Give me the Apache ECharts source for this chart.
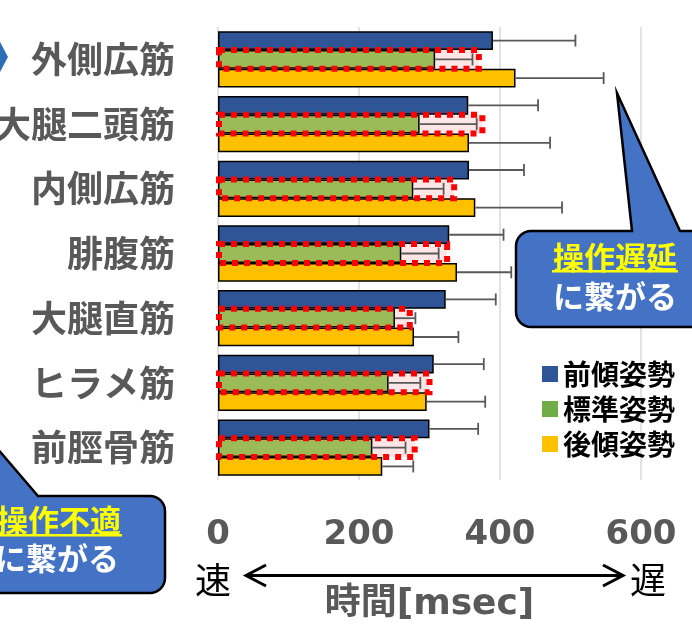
<!DOCTYPE html>
<html><head><meta charset="utf-8">
<script src="https://cdn.jsdelivr.net/npm/echarts@6/dist/echarts.min.js"></script>
<style>html,body{margin:0;padding:0;background:#fff}#c{width:692px;height:627px}</style>
</head><body><div id="c"></div>
<script>
const categories = ['外側広筋','大腿二頭筋','内側広筋','腓腹筋','大腿直筋','ヒラメ筋','前脛骨筋'];
const seriesNames = ['前傾姿勢','標準姿勢','後傾姿勢'];
const forward = [390, 355, 356, 328, 323, 306, 300];
const forwardErr = [117, 99, 78, 77, 71, 71, 69];
const standard = [308, 286, 277, 260, 251, 242, 219];
const standardErr = [53, 81, 43, 53, 29, 45, 47];
const backward = [422, 356, 365, 339, 278, 296, 233];
const backwardErr = [125, 115, 123, 77, 63, 83, 44];
const highlightEnd = [370, 375, 335, 325, 272, 300, 279];
const xTicks = [0, 200, 400, 600];

const CAT_GAP = 0.13;
const colors = ['#2F5597', '#9BBB59', '#FFC000'];
const legendColors = ['#2F5597', '#70AD47', '#FFC000'];
const CJK = "'Noto Sans CJK JP', sans-serif";
const NUM = "'DejaVu Sans', 'Noto Sans CJK JP', sans-serif";

function barGeom(api, slot) {
  const band = api.size([0, 1])[1];
  const bw = band * (1 - CAT_GAP) / 3;
  return { bw, off: (slot - 1) * bw };
}

function errSeries(means, errs, slot) {
  return {
    type: 'custom', z: 5, silent: true,
    encode: { x: [0, 2], y: 1 },
    data: means.map((m, i) => [m, i, m + errs[i]]),
    renderItem(params, api) {
      const c = api.value(1);
      const s = api.coord([api.value(0), c]);
      const e = api.coord([api.value(2), c]);
      const g = barGeom(api, slot);
      const y = s[1] + g.off;
      const st = { stroke: '#595959', lineWidth: 1.8 };
      return { type: 'group', children: [
        { type: 'line', shape: { x1: s[0], y1: y, x2: e[0], y2: y }, style: st },
        { type: 'line', shape: { x1: e[0], y1: y - 6, x2: e[0], y2: y + 6 }, style: st }
      ]};
    }
  };
}

function boxSeries(fill, z) {
  return {
    type: 'custom', z: z, silent: true,
    encode: { x: [0, 2], y: 1 },
    data: highlightEnd.map((v, i) => [0, i, v]),
    renderItem(params, api) {
      const c = api.value(1);
      const s = api.coord([api.value(0), c]);
      const e = api.coord([api.value(2), c]);
      const g = barGeom(api, 1);
      const y0 = s[1] + g.off - g.bw / 2;
      const shape = { x: s[0] + 1, y: y0, width: e[0] - s[0] - 1, height: g.bw };
      const style = fill ? { fill: '#FFE6E6', stroke: null }
                         : { fill: null, stroke: '#FF0000', lineWidth: 6, lineDash: [6, 6] };
      return { type: 'rect', shape, style };
    }
  };
}

// rounded corner helper for callout outlines (screen decoration only)
function arcPts(cx, cy, r, a0, a1) {
  const pts = [];
  for (let k = 0; k <= 8; k++) {
    const a = (a0 + (a1 - a0) * k / 8) * Math.PI / 180;
    pts.push([cx + r * Math.cos(a), cy + r * Math.sin(a)]);
  }
  return pts;
}
const R = 15;
const rightCallout = [].concat(
  [[632, 231], [617, 93], [680, 231], [720, 231], [720, 327]],
  arcPts(516 + R, 327 - R, R, 90, 180),
  arcPts(516 + R, 231 + R, R, 180, 270)
);
const leftCallout = [].concat(
  [[-40, 405], [38, 496]],
  arcPts(165 - R, 496 + R, R, 270, 360),
  arcPts(165 - R, 593 - R, R, 0, 90),
  [[-40, 593]]
);

const chart = echarts.init(document.getElementById('c'), null, { renderer: 'canvas' });
const barData = [forward, standard, backward];
const option = {
  animation: false,
  grid: { left: 218, right: 51, top: 27, bottom: 147, containLabel: false, outerBoundsMode: 'none' },
  legend: {
    orient: 'vertical', right: 12, top: 355,
    itemWidth: 16, itemHeight: 16, itemGap: 7, icon: 'rect',
    itemStyle: { borderWidth: 0 },
    textStyle: { fontFamily: CJK, fontWeight: 'bold', fontSize: 28, lineHeight: 26, color: '#000' },
    data: seriesNames.map((n, i) => ({ name: n, itemStyle: { color: legendColors[i], borderWidth: 0 } }))
  },
  xAxis: {
    type: 'value', min: 0, max: 600, interval: 200,
    axisLine: { show: false }, axisTick: { show: false },
    splitLine: { show: true, lineStyle: { color: '#D9D9D9', width: 1.5 } },
    axisLabel: {
      margin: 38, color: '#595959', fontFamily: NUM, fontWeight: 'bold', fontSize: 34,
      formatter: v => xTicks.includes(v) ? String(v) : ''
    },
    name: '時間[msec]', nameLocation: 'middle', nameGap: 107,
    nameTextStyle: { color: '#595959', fontFamily: NUM, fontWeight: 'bold', fontSize: 36 }
  },
  yAxis: {
    type: 'category', data: categories, inverse: true,
    axisLine: { show: false }, axisTick: { show: false },
    axisLabel: { margin: 43, color: '#595959', fontFamily: CJK, fontWeight: 'bold', fontSize: 36 }
  },
  series: [
    boxSeries(true, 1),
    ...seriesNames.map((n, i) => ({
      name: n, type: 'bar', z: 3, data: barData[i],
      barGap: '0%', barCategoryGap: (CAT_GAP * 100) + '%',
      itemStyle: { color: colors[i], borderColor: '#000', borderWidth: 1.5 }
    })),
    errSeries(forward, forwardErr, 0),
    errSeries(standard, standardErr, 1),
    errSeries(backward, backwardErr, 2),
    boxSeries(false, 8)
  ],
  graphic: [
    { type: 'polygon', z: 10, shape: { points: [[-14, 42], [0, 42], [8, 57], [0, 72], [-14, 72]] }, style: { fill: '#2E6DB4' } },
    { type: 'polygon', z: 10, shape: { points: rightCallout }, style: { fill: '#4472C4', stroke: '#000', lineWidth: 2.5 } },
    { type: 'text', z: 11, style: { text: '操作遅延', x: 615, y: 257, align: 'center', verticalAlign: 'middle', fill: '#FFFF00', font: "bold 31px " + CJK } },
    { type: 'rect', z: 11, shape: { x: 552, y: 270, width: 126, height: 2.5 }, style: { fill: '#FFFF00' } },
    { type: 'text', z: 11, style: { text: 'に繋がる', x: 615, y: 296, align: 'center', verticalAlign: 'middle', fill: '#FFFFFF', font: "bold 31px " + CJK } },
    { type: 'polygon', z: 10, shape: { points: leftCallout }, style: { fill: '#4472C4', stroke: '#000', lineWidth: 2.5 } },
    { type: 'text', z: 11, style: { text: '操作不適', x: 59, y: 520, align: 'center', verticalAlign: 'middle', fill: '#FFFF00', font: "bold 31px " + CJK } },
    { type: 'rect', z: 11, shape: { x: -5, y: 534, width: 127, height: 2.5 }, style: { fill: '#FFFF00' } },
    { type: 'text', z: 11, style: { text: 'に繋がる', x: 57, y: 558, align: 'center', verticalAlign: 'middle', fill: '#FFFFFF', font: "bold 31px " + CJK } },
    { type: 'text', z: 11, style: { text: '速', x: 213, y: 580, align: 'center', verticalAlign: 'middle', fill: '#000', font: "36px " + CJK } },
    { type: 'text', z: 11, style: { text: '遅', x: 648, y: 580, align: 'center', verticalAlign: 'middle', fill: '#000', font: "36px " + CJK } },
    { type: 'line', z: 11, shape: { x1: 246, y1: 575.5, x2: 622, y2: 575.5 }, style: { stroke: '#000', lineWidth: 3 } },
    { type: 'polyline', z: 11, shape: { points: [[266, 565], [246, 575.5], [266, 586]] }, style: { stroke: '#000', lineWidth: 3, fill: null } },
    { type: 'polyline', z: 11, shape: { points: [[603, 565], [623, 575.5], [603, 586]] }, style: { stroke: '#000', lineWidth: 3, fill: null } }
  ]
};
chart.setOption(option);
</script></body></html>
